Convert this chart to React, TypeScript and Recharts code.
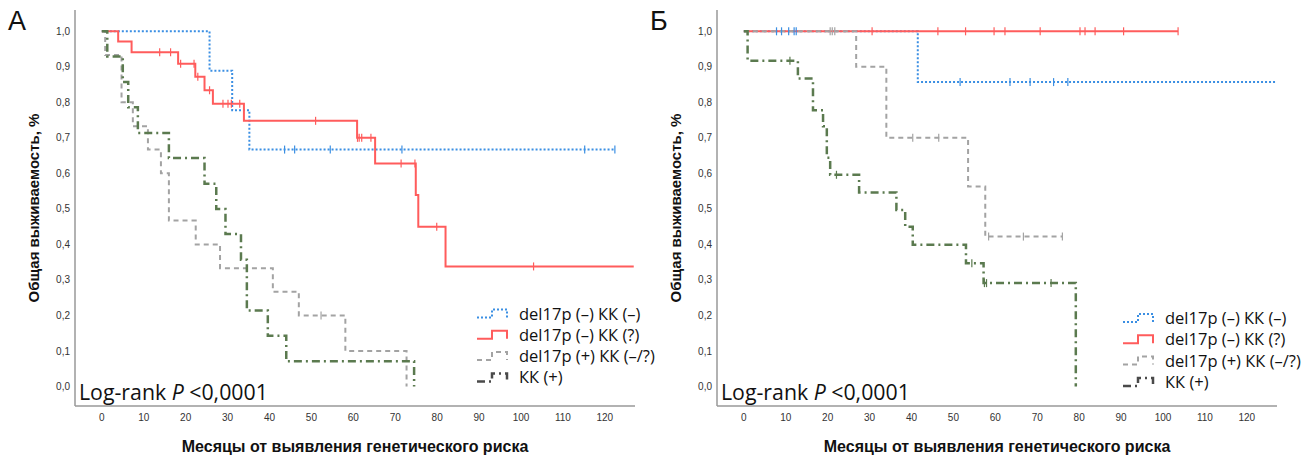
import { ComposedChart, Line, XAxis, YAxis } from 'recharts'

// time (months) / survival pairs at each step, plus censored times
const aBlueSteps = [[0, 1], [25.7, 0.889], [31.1, 0.778], [35.2, 0.667]]
const aBlueCensor = [43.6, 46, 54.5, 71.6, 115.2, 122.4]

const aRedSteps = [
  [0, 1], [3.9, 0.971], [7.1, 0.941], [18.2, 0.909], [22.3, 0.872], [24.5, 0.834],
  [26.5, 0.796], [33.9, 0.748], [60.9, 0.7], [65.2, 0.628], [74.9, 0.539], [75.5, 0.45],
  [82, 0.338], [126.9, 0.338],
]
const aRedCensor = [13.8, 16.4, 18.8, 22, 22.9, 25.7, 28.9, 30.1, 30.9, 32.9, 51, 61, 61.4, 62, 64.2, 71.4, 74.7, 79.9, 103]

const aGraySteps = [
  [0, 1], [0.8, 0.933], [4.7, 0.8], [7.4, 0.733], [11, 0.667], [14.1, 0.6], [16, 0.467],
  [22.4, 0.4], [28.2, 0.333], [40.8, 0.267], [47, 0.2], [58.1, 0.1], [72.7, 0],
]
const aGrayCensor = [52.3]

const aGreenSteps = [
  [0, 1], [1.3, 0.929], [5, 0.857], [6.3, 0.786], [8.6, 0.714], [16, 0.643], [24.5, 0.571],
  [27.3, 0.5], [29.5, 0.429], [33.2, 0.357], [34.6, 0.214], [39.6, 0.143], [44, 0.071], [74.5, 0],
]
const aGreenCensor: number[] = []

const bBlueSteps = [[0, 1], [41.5, 0.857], [126.8, 0.857]]
const bBlueCensor = [7.8, 9, 10.7, 12, 12.5, 51.6, 63.5, 68.3, 73.9, 77.3]

const bRedSteps = [[0, 1]]
const bRedCensor = [30.6, 46.3, 52.9, 59.7, 62.3, 70.7, 80.2, 81.4, 83.8, 90.6, 103.6]

const bGraySteps = [[0, 1], [26.8, 0.9], [34, 0.7], [53.5, 0.563], [57.6, 0.422]]
const bGrayCensor = [20.6, 21.1, 21.7, 40.3, 46.5, 58.4, 66.7, 76]

const bGreenSteps = [
  [0, 1], [0.9, 0.917], [12.9, 0.867], [16.5, 0.778], [18.9, 0.733], [19.8, 0.644],
  [20.6, 0.596], [27.5, 0.546], [36.4, 0.497], [38.5, 0.45], [40.3, 0.399], [53, 0.347],
  [57.2, 0.291], [79.2, 0],
]
const bGreenCensor = [11, 22.1, 54.4, 57.4, 57.9, 73.3]

const seriesNames = ['del17p (–) КК (–)', 'del17p (–) КК (?)', 'del17p (+) КК (–/?)', 'КК (+)']
const monthTicks = [0, 10, 20, 30, 40, 50, 60, 70, 80, 90, 100, 110, 120]
const survTicks = [0, 0.1, 0.2, 0.3, 0.4, 0.5, 0.6, 0.7, 0.8, 0.9, 1]

const styles = [
  { stroke: '#3b8fe3', width: 2, dash: '2 2' },
  { stroke: '#ff5c5c', width: 2, dash: undefined },
  { stroke: '#a3a3a3', width: 2, dash: '5 4' },
  { stroke: '#5b7a4f', width: 2.5, dash: '8 4 2 4' },
]
const legendIconColors = ['#3b8fe3', '#ff5c5c', '#a3a3a3', '#4a4a4a']

type Pt = { t: number; s: number; c: boolean }

function buildCurve(steps: number[][], censor: number[]): Pt[] {
  const survAt = (t: number) => {
    let s = 1
    for (const [et, es] of steps) if (et <= t) s = es
    return s
  }
  const pts: Pt[] = steps.map(([t, s]) => ({ t, s, c: false }))
  censor.forEach((t) => pts.push({ t, s: survAt(t), c: true }))
  return pts.sort((a, b) => a.t - b.t || Number(a.c) - Number(b.c))
}

const panelA = [
  buildCurve(aBlueSteps, aBlueCensor),
  buildCurve(aRedSteps, aRedCensor),
  buildCurve(aGraySteps, aGrayCensor),
  buildCurve(aGreenSteps, aGreenCensor),
]
const panelB = [
  buildCurve(bBlueSteps, bBlueCensor),
  buildCurve(bRedSteps, bRedCensor),
  buildCurve(bGraySteps, bGrayCensor),
  buildCurve(bGreenSteps, bGreenCensor),
]

const censorDot = (color: string) => (props: any) => {
  const { cx, cy, payload, index } = props
  if (!payload?.c) return <g key={index} />
  return <line key={index} x1={cx} x2={cx} y1={cy - 4} y2={cy + 4} stroke={color} strokeWidth={1.2} />
}

const tickStyle = { fontFamily: 'Liberation Sans, Arial, sans-serif', fontSize: 10, fill: '#333' }

function SurvivalPanel({ curves }: { curves: Pt[][] }) {
  return (
    <ComposedChart width={645} height={457} margin={{ top: 10, right: 10, bottom: 0, left: 0 }}>
      <XAxis
        dataKey="t"
        type="number"
        domain={[-6.4, 127.2]}
        ticks={monthTicks}
        tickLine={false}
        axisLine={{ stroke: '#999', strokeWidth: 1.5 }}
        tick={tickStyle}
        height={51}
        allowDuplicatedCategory={false}
      />
      <YAxis
        type="number"
        domain={[-0.055, 1.06]}
        ticks={survTicks}
        tickFormatter={(v: number) => v.toFixed(1).replace('.', ',')}
        tickLine={false}
        tickSize={3}
        tickMargin={2}
        axisLine={{ stroke: '#999', strokeWidth: 1.5 }}
        tick={tickStyle}
        width={75}
      />
      {curves.map((data, i) => (
        <Line
          key={seriesNames[i]}
          data={data}
          dataKey="s"
          type="stepAfter"
          stroke={styles[i].stroke}
          strokeWidth={styles[i].width}
          strokeDasharray={styles[i].dash}
          dot={censorDot(styles[i].stroke)}
          activeDot={false}
          isAnimationActive={false}
        />
      ))}
    </ComposedChart>
  )
}

const titleFont = 'Liberation Sans, Arial, sans-serif'
const noteFont = 'Open Sans, Noto Sans, sans-serif'

function Annotations({ dx, letter, legendX, legendY }: { dx: number; letter: string; legendX: number; legendY: number }) {
  return (
    <g>
      <text x={dx + 8} y={30} fontFamily={titleFont} fontSize={27} fill="#111">{letter}</text>
      <text
        transform={`translate(${dx + 39},208) rotate(-90)`}
        textAnchor="middle"
        fontFamily={titleFont}
        fontWeight="bold"
        fontSize={15}
        fill="#111"
      >
        Общая выживаемость, %
      </text>
      <text x={dx + 355} y={452} textAnchor="middle" fontFamily={titleFont} fontWeight="bold" fontSize={16} fill="#111">
        Месяцы от выявления генетического риска
      </text>
      <text x={dx + 79} y={400} fontFamily={noteFont} fontSize={21.3} fill="#111">
        Log-rank <tspan fontStyle="italic">P</tspan> &lt;0,0001
      </text>
      {seriesNames.map((name, i) => {
        const base = legendY + i * 21.3
        return (
          <g key={name}>
            <path
              d={`M${legendX},${base - 2} H${legendX + 15} V${base - 10} H${legendX + 30} V${base - 2}`}
              fill="none"
              stroke={legendIconColors[i]}
              strokeWidth={i === 3 ? 2.5 : 2}
              strokeDasharray={styles[i].dash}
            />
            <text x={legendX + 42} y={base} fontFamily={noteFont} fontSize={16.5} fill="#111">{name}</text>
          </g>
        )
      })}
    </g>
  )
}

export default function App() {
  return (
    <div style={{ position: 'absolute', left: 0, top: 0, width: 1314, height: 457, background: '#fff' }}>
      <div style={{ position: 'absolute', left: 0, top: 0 }}>
        <SurvivalPanel curves={panelA} />
      </div>
      <div style={{ position: 'absolute', left: 642, top: 0 }}>
        <SurvivalPanel curves={panelB} />
      </div>
      <svg width={1314} height={457} style={{ position: 'absolute', left: 0, top: 0, pointerEvents: 'none' }}>
        <Annotations dx={0} letter="А" legendX={477} legendY={319.5} />
        <Annotations dx={642} letter="Б" legendX={1123} legendY={324} />
      </svg>
    </div>
  )
}
